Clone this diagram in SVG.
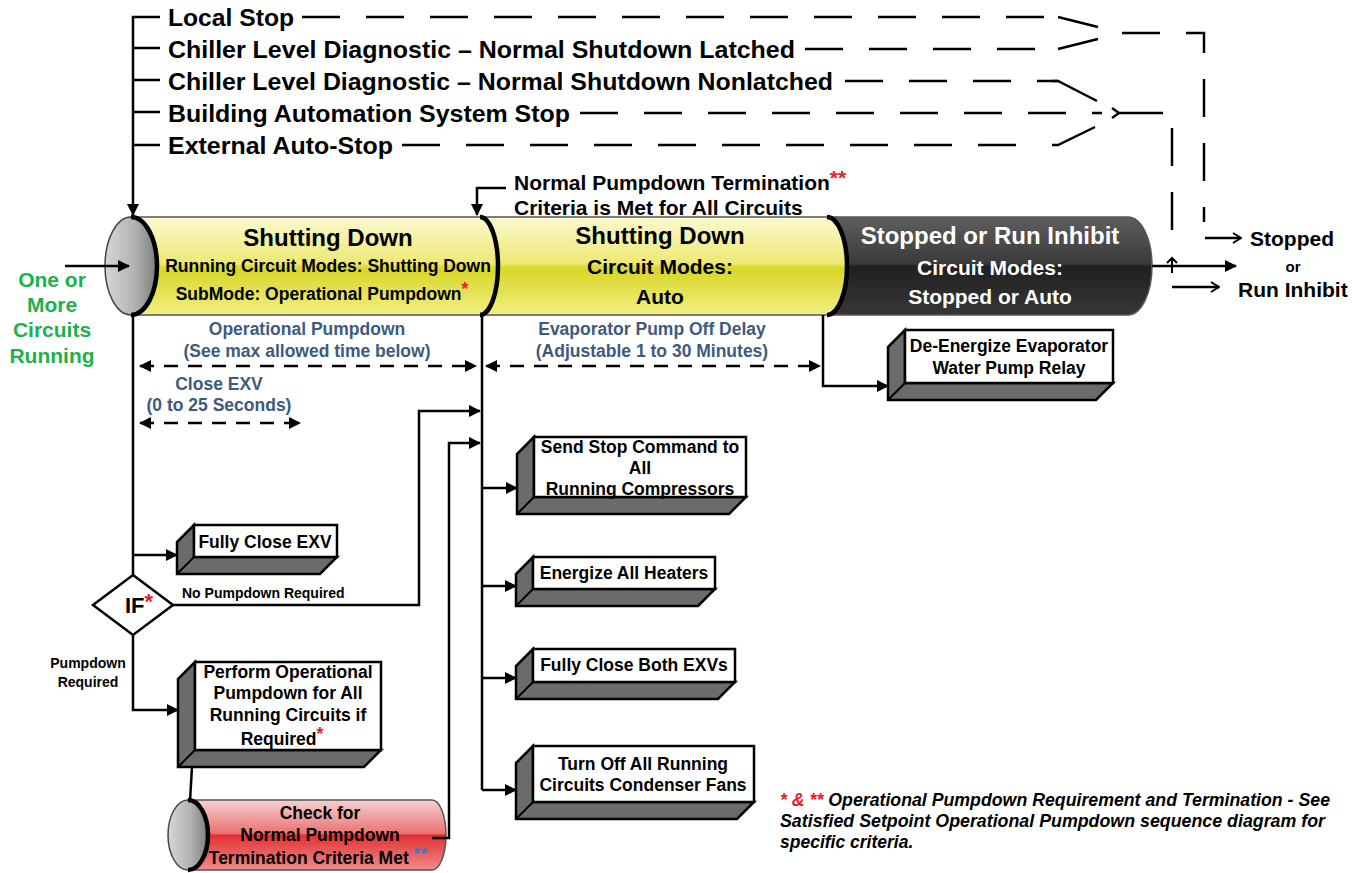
<svg xmlns="http://www.w3.org/2000/svg" width="1367" height="873" viewBox="0 0 1367 873">
<style>
text{font-family:"Liberation Sans",Arial,sans-serif;font-weight:bold;fill:#000}
.big{font-size:24px}
.mid{font-size:21px}
.box{font-size:17.5px}
.tm{font-size:17.5px;fill:#3d5a80}
.sm{font-size:14px}
.wh{fill:#fff}
.red{fill:#e8202a}
.fn{font-size:17.5px;font-style:italic}
.ln{fill:none;stroke:#000;stroke-width:2.5}
.dl{fill:none;stroke:#000;stroke-width:2.5;stroke-dasharray:38 26}
.dd{fill:none;stroke:#000;stroke-width:2.5;stroke-dasharray:14 10}
.arr{marker-end:url(#ah)}
.oarr{marker-end:url(#oa)}
.bev{fill:#6b6b6b;stroke:#000;stroke-width:2.5;stroke-linejoin:miter}
.face{fill:#fff;stroke:#000;stroke-width:2.5}
.edge{fill:none;stroke:#000;stroke-width:2}
.rim{fill:none;stroke:#000;stroke-width:4.5}
.cyl{stroke:#555;stroke-width:1.5}
</style>
<defs>
<marker id="ah" viewBox="0 0 12 12" refX="11" refY="6" markerWidth="12" markerHeight="12" markerUnits="userSpaceOnUse" orient="auto-start-reverse"><path d="M0,0 L12,6 L0,12 z" fill="#000"/></marker>
<marker id="oa" viewBox="0 0 12 12" refX="11" refY="6" markerWidth="12" markerHeight="12" markerUnits="userSpaceOnUse" orient="auto"><path d="M3,1 L11,6 L3,11" fill="none" stroke="#000" stroke-width="2"/></marker>
<linearGradient id="gy" x1="0" y1="0" x2="0" y2="1">
<stop offset="0" stop-color="#fbf9d0"/><stop offset="0.48" stop-color="#ede972"/><stop offset="0.5" stop-color="#dedc3a"/><stop offset="0.55" stop-color="#d8d72a"/><stop offset="1" stop-color="#f2ef82"/>
</linearGradient>
<linearGradient id="gd" x1="0" y1="0" x2="0" y2="1">
<stop offset="0" stop-color="#5e5e5e"/><stop offset="0.48" stop-color="#3a3a3a"/><stop offset="0.5" stop-color="#202020"/><stop offset="1" stop-color="#363636"/>
</linearGradient>
<linearGradient id="gr" x1="0" y1="0" x2="0" y2="1">
<stop offset="0" stop-color="#f6d0d0"/><stop offset="0.48" stop-color="#ea7272"/><stop offset="0.5" stop-color="#e23030"/><stop offset="1" stop-color="#ef8c8c"/>
</linearGradient>
<linearGradient id="gc" x1="0" y1="0" x2="1" y2="0">
<stop offset="0" stop-color="#d6d6d6"/><stop offset="0.55" stop-color="#b4b4b4"/><stop offset="1" stop-color="#7c7c7c"/>
</linearGradient>
</defs>
<rect width="1367" height="873" fill="#fff"/>

<g id="stop-sources">
<text class="big" x="168" y="26" textLength="126" lengthAdjust="spacingAndGlyphs">Local Stop</text>
<text class="big" x="168" y="58" textLength="627" lengthAdjust="spacingAndGlyphs">Chiller Level Diagnostic – Normal Shutdown Latched</text>
<text class="big" x="168" y="90" textLength="665" lengthAdjust="spacingAndGlyphs">Chiller Level Diagnostic – Normal Shutdown Nonlatched</text>
<text class="big" x="168" y="122" textLength="402" lengthAdjust="spacingAndGlyphs">Building Automation System Stop</text>
<text class="big" x="168" y="154" textLength="225" lengthAdjust="spacingAndGlyphs">External Auto-Stop</text>
</g>

<g id="running-label">
<text x="52" y="287" text-anchor="middle" style="font-size:21px;fill:#1db14c">One or</text>
<text x="52" y="312" text-anchor="middle" style="font-size:21px;fill:#1db14c">More</text>
<text x="52" y="337" text-anchor="middle" style="font-size:21px;fill:#1db14c">Circuits</text>
<text x="52" y="363" text-anchor="middle" style="font-size:21px;fill:#1db14c">Running</text>
</g>

<g id="main-cylinder">
<path class="cyl" d="M131,217 H480 A18,49 0 0 1 480,315 H131 Z" fill="url(#gy)"/>
<path class="cyl" d="M480,217 H827 A20,49 0 0 1 827,315 H480 A18,49 0 0 0 480,217 Z" fill="url(#gy)"/>
<path class="cyl" d="M827,217 H1128 A24,49 0 0 1 1128,315 H827 A20,49 0 0 0 827,217 Z" fill="url(#gd)"/>
<ellipse cx="131" cy="266" rx="26" ry="49" fill="url(#gc)" stroke="#444" stroke-width="1.5"/>
<path class="rim" d="M131,217 A26,49 0 0 1 131,315"/>
<path class="rim" d="M480,217 A18,49 0 0 1 480,315"/>
<path class="rim" d="M827,217 A20,49 0 0 1 827,315"/>
</g>

<g id="state-shutting-down-1">
<text class="big" x="328" y="246" text-anchor="middle">Shutting Down</text>
<text x="328" y="272" text-anchor="middle" style="font-size:17.5px">Running Circuit Modes: Shutting Down</text>
<text x="322" y="300" text-anchor="middle" style="font-size:17.5px">SubMode: Operational Pumpdown<tspan class="red" dy="-5">*</tspan></text>
</g>

<g id="state-shutting-down-2">
<text class="big" x="660" y="244" text-anchor="middle">Shutting Down</text>
<text class="mid" x="660" y="274" text-anchor="middle">Circuit Modes:</text>
<text class="mid" x="660" y="304" text-anchor="middle">Auto</text>
</g>

<g id="state-stopped">
<text class="big wh" x="990" y="244" text-anchor="middle">Stopped or Run Inhibit</text>
<text class="mid wh" x="990" y="275" text-anchor="middle">Circuit Modes:</text>
<text class="mid wh" x="990" y="304" text-anchor="middle">Stopped or Auto</text>
</g>

<g id="termination-label">
<text class="mid" x="514" y="190">Normal Pumpdown Termination<tspan class="red" dy="-5">**</tspan></text>
<text class="mid" x="514" y="215">Criteria is Met for All Circuits</text>
</g>

<g id="result-label">
<text class="mid" x="1250" y="246">Stopped</text>
<text x="1293" y="272" text-anchor="middle" style="font-size:15px">or</text>
<text class="mid" x="1238" y="297">Run Inhibit</text>
</g>

<g id="timing-labels">
<text class="tm" x="307" y="335" text-anchor="middle">Operational Pumpdown</text>
<text class="tm" x="307" y="357" text-anchor="middle">(See max allowed time below)</text>
<text class="tm" x="219" y="390" text-anchor="middle">Close EXV</text>
<text class="tm" x="219" y="411" text-anchor="middle">(0 to 25 Seconds)</text>
<text class="tm" x="652" y="335" text-anchor="middle">Evaporator Pump Off Delay</text>
<text class="tm" x="652" y="357" text-anchor="middle">(Adjustable 1 to 30 Minutes)</text>
</g>

<g id="box-deenergize">
<polygon class="bev" points="905,330 888,347 888,400 1096,400 1113,383 905,383"/>
<rect class="face" x="905" y="330" width="208" height="53"/>
<line class="edge" x1="905" y1="383" x2="888" y2="400"/>
<text class="box" x="1009" y="352" text-anchor="middle">De-Energize Evaporator</text>
<text class="box" x="1009" y="374" text-anchor="middle">Water Pump Relay</text>
</g>

<g id="box-send-stop">
<polygon class="bev" points="534,437 517,454 517,514 729,514 746,497 534,497"/>
<rect class="face" x="534" y="437" width="212" height="60"/>
<line class="edge" x1="534" y1="497" x2="517" y2="514"/>
<text class="box" x="640" y="453" text-anchor="middle">Send Stop Command to</text>
<text class="box" x="640" y="474" text-anchor="middle">All</text>
<text class="box" x="640" y="495" text-anchor="middle">Running Compressors</text>
</g>

<g id="box-heaters">
<polygon class="bev" points="533,557 516,574 516,606 698,606 715,589 533,589"/>
<rect class="face" x="533" y="557" width="182" height="32"/>
<line class="edge" x1="533" y1="589" x2="516" y2="606"/>
<text class="box" x="624" y="579" text-anchor="middle">Energize All Heaters</text>
</g>

<g id="box-close-both">
<polygon class="bev" points="533,649 516,666 516,699 718,699 735,682 533,682"/>
<rect class="face" x="533" y="649" width="202" height="33"/>
<line class="edge" x1="533" y1="682" x2="516" y2="699"/>
<text class="box" x="634" y="671" text-anchor="middle">Fully Close Both EXVs</text>
</g>

<g id="box-fans">
<polygon class="bev" points="533,746 516,763 516,819 737,819 754,802 533,802"/>
<rect class="face" x="533" y="746" width="221" height="56"/>
<line class="edge" x1="533" y1="802" x2="516" y2="819"/>
<text class="box" x="643" y="770" text-anchor="middle">Turn Off All Running</text>
<text class="box" x="643" y="791" text-anchor="middle">Circuits Condenser Fans</text>
</g>

<g id="box-close-exv">
<polygon class="bev" points="194,525 177,542 177,574 320,574 337,557 194,557"/>
<rect class="face" x="194" y="525" width="143" height="32"/>
<line class="edge" x1="194" y1="557" x2="177" y2="574"/>
<text class="box" x="265" y="548" text-anchor="middle">Fully Close EXV</text>
</g>

<g id="decision-if">
<polygon points="133,575 173,605 133,635 93,605" fill="#fff" stroke="#000" stroke-width="2.5"/>
<text x="125" y="613" style="font-size:22px">IF<tspan class="red" dy="-4">*</tspan></text>
<text class="sm" x="182" y="598">No Pumpdown Required</text>
<text class="sm" x="88" y="668" text-anchor="middle">Pumpdown</text>
<text class="sm" x="88" y="687" text-anchor="middle">Required</text>
</g>

<g id="box-perform">
<polygon class="bev" points="195,662 178,679 178,767 364,767 381,750 195,750"/>
<rect class="face" x="195" y="662" width="186" height="88"/>
<line class="edge" x1="195" y1="750" x2="178" y2="767"/>
<text class="box" x="288" y="678" text-anchor="middle">Perform Operational</text>
<text class="box" x="288" y="699" text-anchor="middle">Pumpdown for All</text>
<text class="box" x="288" y="721" text-anchor="middle">Running Circuits if</text>
<text class="box" x="282" y="745" text-anchor="middle">Required<tspan class="red" dy="-5">*</tspan></text>
</g>

<g id="check-cylinder">
<path class="cyl" d="M188,800 H432 A14,35 0 0 1 432,870 H188 Z" fill="url(#gr)"/>
<ellipse cx="188" cy="835" rx="20" ry="35" fill="url(#gc)" stroke="#444" stroke-width="1.5"/>
<path class="rim" d="M188,800 A20,35 0 0 1 188,870"/>
<text x="320" y="819" text-anchor="middle" style="font-size:17.5px">Check for</text>
<text x="320" y="841" text-anchor="middle" style="font-size:17.5px">Normal Pumpdown</text>
<text x="318" y="864" text-anchor="middle" style="font-size:17.5px">Termination Criteria Met <tspan dy="-4" style="fill:#4a70c8">**</tspan></text>
</g>

<g id="footnote">
<text class="fn" x="780" y="806" textLength="550" lengthAdjust="spacingAndGlyphs"><tspan class="red">* &amp; **</tspan> Operational Pumpdown Requirement and Termination - See</text>
<text class="fn" x="780" y="827" textLength="545" lengthAdjust="spacingAndGlyphs">Satisfied Setpoint Operational Pumpdown sequence diagram for</text>
<text class="fn" x="780" y="848">specific criteria.</text>
</g>

<g id="connectors">
<path class="ln arr" d="M160,17 H133 V215"/>
<path class="ln" d="M133,48 H160 M133,80 H160 M133,112 H160 M133,145 H160"/>
<path class="dl" d="M302,17 H1048"/>
<path class="ln" d="M1058,17 L1098,27"/>
<path class="dl" d="M805,49 H1036"/>
<path class="ln" d="M1058,49 L1098,39"/>
<path class="dl" d="M845,81 H1058"/>
<path class="ln" d="M1052,81 H1058 L1097,101"/>
<path class="dl" d="M580,113 H1102"/>
<path class="ln" d="M1112,108 L1119,113 L1112,118 M1117,113 H1163"/>
<path class="dl" d="M402,145 H1040"/>
<path class="ln" d="M1052,145 H1058 L1095,127"/>
<path class="dl" d="M1122,33 H1204 V222"/>
<path class="dl" d="M1172,128 V235"/>
<path class="ln oarr" d="M1205,238 H1241"/>
<path class="ln oarr" d="M1172,287 H1219"/>
<path class="ln arr" d="M1152,266 H1236"/>
<path class="ln" d="M1167,263 L1172,258 L1177,263 M1172,258 V273" style="stroke-width:2"/>
<path class="ln arr" d="M65,266 H129"/>
<path class="ln arr" d="M506,188 H477 V215"/>
<path class="ln" d="M133,315 V575"/>
<path class="ln arr" d="M133,555 H177"/>
<path class="ln arr" d="M133,635 V710 H178"/>
<path class="ln arr" d="M173,605 H419 V411 H480"/>
<path class="ln arr" d="M432,838 H449 V443 H480"/>
<path class="ln" d="M192,767 L190,801"/>
<path class="ln" d="M482,315 V790"/>
<path class="ln arr" d="M482,488 H517"/>
<path class="ln arr" d="M482,586 H516"/>
<path class="ln arr" d="M482,678 H516"/>
<path class="ln arr" d="M482,790 H516"/>
<path class="ln arr" d="M823,315 V386 H888"/>
<path class="dd" d="M140,366 H476" marker-start="url(#ah)" marker-end="url(#ah)"/>
<path class="dd" d="M140,423 H300" marker-start="url(#ah)" marker-end="url(#ah)"/>
<path class="dd" d="M486,366 H820" marker-start="url(#ah)" marker-end="url(#ah)"/>
</g>
</svg>
